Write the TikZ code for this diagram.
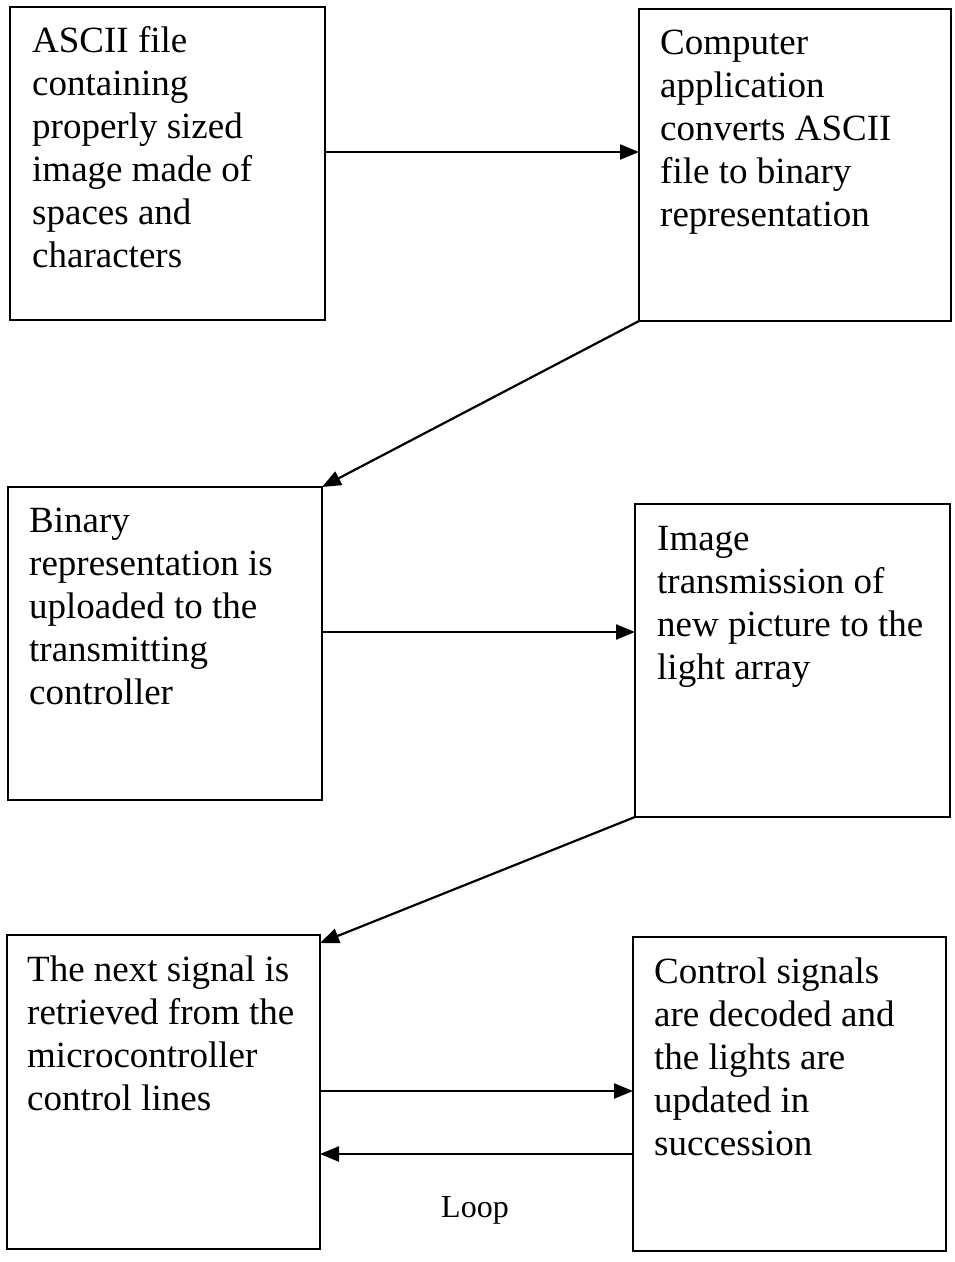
\documentclass[tikz,border=0pt]{standalone}
\usepackage{fontspec}
\setmainfont{Liberation Serif}
\usetikzlibrary{arrows.meta}
\begin{document}
\begin{tikzpicture}[x=1pt,y=-1pt,
  box/.style={draw=black, line width=2.2pt, minimum width=#1, inner sep=0pt, outer sep=0pt},
  box/.default=314pt,
  txt/.style={anchor=base west, inner sep=0pt, font=\fontsize{37}{43}\selectfont},
  conn/.style={line width=2.2pt, -{Triangle[length=19pt,width=15pt]}},
  lbl/.style={anchor=base, inner sep=0pt, font=\fontsize{32}{38}\selectfont}
]
\useasboundingbox (0,0) rectangle (955,1262);
\fill[white] (0,0) rectangle (955,1262);

% boxes
\node[box=315pt, minimum height=313pt] (b1) at (167.5,163.5) {};
\node[box=312pt, minimum height=312pt] (b2) at (795,165) {};
\node[box=314pt, minimum height=313pt] (b3) at (165,643.5) {};
\node[box=315pt, minimum height=313pt] (b4) at (792.5,660.5) {};
\node[box=313pt, minimum height=314pt] (b5) at (163.5,1092) {};
\node[box=313pt, minimum height=314pt] (b6) at (789.5,1094) {};

% texts
\node[txt] (t1) at (32,52) {\begin{tabular}[t]{@{}l@{}}ASCII file\\containing\\properly sized\\image made of\\spaces and\\characters\end{tabular}};
\node[txt] (t2) at (660,54) {\begin{tabular}[t]{@{}l@{}}Computer\\application\\converts ASCII\\file to binary\\representation\end{tabular}};
\node[txt] (t3) at (29,532) {\begin{tabular}[t]{@{}l@{}}Binary\\representation is\\uploaded to the\\transmitting\\controller\end{tabular}};
\node[txt] (t4) at (657,550) {\begin{tabular}[t]{@{}l@{}}Image\\transmission of\\new picture to the\\light array\end{tabular}};
\node[txt] (t5) at (27,981) {\begin{tabular}[t]{@{}l@{}}The next signal is\\retrieved from the\\microcontroller\\control lines\end{tabular}};
\node[txt] (t6) at (654,983) {\begin{tabular}[t]{@{}l@{}}Control signals\\are decoded and\\the lights are\\updated in\\succession\end{tabular}};
\node[lbl] (loop) at (475,1217) {Loop};

% connectors
\draw[conn] (b1.east |- 0,152) -- (b2.west |- 0,152);
\draw[conn] (b2.south west) -- (b3.north east);
\draw[conn] (b3.east |- 0,632) -- (b4.west |- 0,632);
\draw[conn] (b4.south west) -- ([yshift=-8pt]b5.north east);
\draw[conn] (b5.east |- 0,1091) -- (b6.west |- 0,1091);
\draw[conn] (b6.west |- 0,1154) -- (b5.east |- 0,1154);
\end{tikzpicture}
\end{document}
